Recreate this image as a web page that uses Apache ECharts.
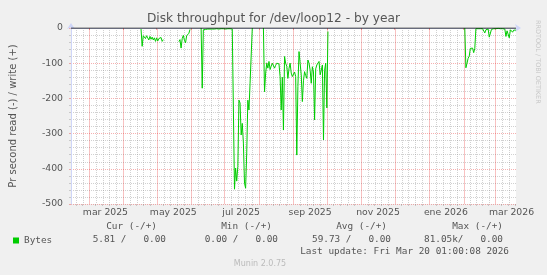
<!DOCTYPE html>
<html><head><meta charset="utf-8">
<script src="https://cdn.jsdelivr.net/npm/echarts@6/dist/echarts.min.js"></script>
<style>html,body{margin:0;padding:0;background:#f0f0f0}#c{width:547px;height:275px}</style>
</head><body><div id="c"></div>
<script>
// ---- data ----
const startTime = '2025-02-13T01:00:00';
const endTime = '2026-03-20T01:00:00';
const labelDates = ['2025-03-16','2025-05-16','2025-07-16','2025-09-16','2025-11-16','2026-01-16','2026-03-16'];
const tickLabels = ['mar 2025','may 2025','jul 2025','sep 2025','nov 2025','ene 2026','mar 2026'];
const yMin = -500, yMax = 0, yStep = 100;

const segAStart = '2025-04-17';
const segAValues = [-3,-52,-22,-20,-30,-22,-28,-34,-24,-32,-26,-34,-28,-38,-28,-37,-30,-34,-27,-38,-33];
const segBStart = '2025-05-21';
const segBValues = [-39,-33,-57,-30,-21,-35,-42,-22,-25,-15,-4];
const segCStart = '2025-06-10';
const segCValues = [0,-171,
  -5,-4,-4,-4,-3,-4,-3,-3,-3,-2,-3,-2,-2,-2,-3,-2,-2,-2,-2,-2,-3,-2,-2,-2,-2,-3,-3,-4,
  -458,-398,-435,-393,-205,-213,-304,-271,-327,-441,-455,-355,-205,-233,-157,-155,0];
const segDStart = '2025-08-05';
const segDValues = [0,-181,-128,-100,-114,-95,-118,-108,-100,-104,-114,-106,-100,-95,-102,-138,-233,-140,-290,-81,
  -100,-109,-143,-115,-100,-128,-138,-133,-125,-138,-361,-166,-67,-100,-133,-209,-150,-124,-135,-143,
  -91,-100,-120,-157,-110,-125,-261,-116,-105,-100,-95,-133,-120,-105,-318,-120,-100,-227,-10];
const segEStart = '2026-02-02';
const segEValues = [0,-113,-100,-86,-80,-58,-60,-57,-70,-58,-2,-2,-2,-1,-2,-2,-2,-3,-14,-5,-2,-3,-26,-26,-4,
  -2,-2,-2,-2,-2,-1,-2,-2,-2,-2,-2,-3,-24,-8,-12,-28,-5,-6,-12,-6,-10,-6];

const legendHeaders = ['Cur (-/+)','Min (-/+)','Avg (-/+)','Max (-/+)'];
const legendValues = ['5.81 /   0.00','0.00 /   0.00','59.73 /   0.00','81.05k/   0.00'];
const lastUpdate = 'Last update: Fri Mar 20 01:00:08 2026';

// ---- build ----
const DAY = 86400000;
const ts = s => new Date(s.length <= 10 ? s + 'T00:00:00' : s).getTime();
const tMin = ts(startTime), tMax = ts(endTime);
const segs = [[segAStart,segAValues],[segBStart,segBValues],[segCStart,segCValues],[segDStart,segDValues],[segEStart,segEValues]];
const readData = [];
segs.forEach(([s, vals]) => {
  const t0 = ts(s);
  vals.forEach((v,i) => readData.push([t0 + i*DAY, v]));
  readData.push([t0 + vals.length*DAY, null]);
});
// grid positions: month starts (major), each month split in 5 (minor)
const monthStarts = [], minorTimes = [];
for (let d = new Date(2025,1,1); d.getTime() < tMax; d = new Date(d.getFullYear(), d.getMonth()+1, 1)) {
  const a = d.getTime(), b = new Date(d.getFullYear(), d.getMonth()+1, 1).getTime();
  if (a > tMin && monthStarts.indexOf(a) < 0) monthStarts.push(a);
  for (let k = 1; k < 5; k++) { const t = a + (b - a) * k / 5; if (t > tMin && t < tMax) minorTimes.push(t); }
}
const labelTimes = labelDates.map(ts);

const AXIS = '#CFD6F8', FONT = '#555';
const gridGray = 'rgba(140,140,140,0.4)', gridRed = 'rgba(229,30,30,0.35)', gridRedV = 'rgba(229,30,30,0.27)';
const chart = echarts.init(document.getElementById('c'), null, {renderer:'canvas'});
const mono = 'DejaVu Sans Mono';
const headerRight = [157,272,387,503], valueRight = [166,278,391,503];
const graphics = [];
legendHeaders.forEach((h,i) => graphics.push({type:'text', x:headerRight[i], y:227, style:{text:h, font:'9.4px "'+mono+'"', fill:FONT, align:'right', verticalAlign:'middle'}}));
legendValues.forEach((h,i) => graphics.push({type:'text', x:valueRight[i], y:240, style:{text:h, font:'9.4px "'+mono+'"', fill:FONT, align:'right', verticalAlign:'middle'}}));
graphics.push({type:'text', x:509, y:252, style:{text:lastUpdate, font:'9.4px "'+mono+'"', fill:FONT, align:'right', verticalAlign:'middle'}});
graphics.push({type:'text', x:260, y:264, style:{text:'Munin 2.0.75', font:'8px "DejaVu Sans"', fill:'#bbb', align:'center', verticalAlign:'middle'}});
graphics.push({type:'text', x:538, y:20, rotation:-Math.PI/2, style:{text:'RRDTOOL / TOBI OETIKER', font:'6.5px "DejaVu Sans"', fill:'#c8c8c8', align:'left', verticalAlign:'middle'}});

const vLineSeries = (name, times, color, dash, z) => ({
  name, type:'custom', data:times.map(t => [t, yMin]), xAxisIndex:0, silent:true, z, clip:true,
  renderItem:(params, api) => {
    const x = Math.round(api.coord([api.value(0), yMin])[0]) + 0.5;
    const cs = params.coordSys;
    return {type:'line', silent:true,
      shape:{x1:x, y1:cs.y, x2:x, y2:cs.y + cs.height},
      style:{stroke:color, fill:null, lineWidth:1, lineDash:dash}};
  }
});

chart.setOption({
  backgroundColor:'#f0f0f0',
  animation:false,
  title:{text:'Disk throughput for /dev/loop12 - by year', left:'center', top:13, padding:0,
    textStyle:{fontFamily:'DejaVu Sans', fontSize:12.2, fontWeight:'normal', color:FONT}},
  grid:{left:66, top:28, width:450, height:176, show:true, backgroundColor:'#ffffff', borderWidth:0},
  legend:{data:['Bytes'], left:13, top:236, icon:'rect', itemWidth:6, itemHeight:6, padding:0,
    textStyle:{fontFamily:mono, fontSize:9.4, color:FONT}},
  xAxis:[
    {type:'value', min:tMin, max:tMax, position:'bottom', z:1,
     axisLine:{show:true, lineStyle:{color:AXIS}, symbol:['none','arrow'], symbolSize:[6,6], symbolOffset:[0,5]},
     axisTick:{show:true, customValues:monthStarts, length:2, lineStyle:{color:gridRed}},
     axisLabel:{show:true, customValues:labelTimes, margin:4, color:FONT, fontFamily:'DejaVu Sans', fontSize:9.3,
       formatter:(v)=>{const i=labelTimes.indexOf(v); return i>=0?tickLabels[i]:'';}},
     splitLine:{show:false}},
    {type:'value', min:tMin, max:tMax, position:'bottom', z:0,
     axisLine:{show:false}, axisLabel:{show:false},
     axisTick:{show:true, customValues:minorTimes, length:2, lineStyle:{color:gridGray}},
     splitLine:{show:false}}
  ],
  yAxis:{type:'value', min:yMin, max:yMax, interval:yStep,
    name:'Pr second read (-) / write (+)', nameLocation:'middle', nameGap:53, nameRotate:90,
    nameTextStyle:{fontFamily:'DejaVu Sans', fontSize:10, color:FONT},
    axisLine:{show:true, lineStyle:{color:AXIS}, symbol:['none','arrow'], symbolSize:[6,6], symbolOffset:[0,5]},
    axisTick:{show:true, length:2, lineStyle:{color:gridRed}},
    minorTick:{show:true, splitNumber:5, length:2, lineStyle:{color:gridGray}},
    axisLabel:{color:FONT, fontFamily:'DejaVu Sans', fontSize:9.3, margin:8},
    splitLine:{show:true, lineStyle:{color:gridRed, type:[1,1]}},
    minorSplitLine:{show:true, lineStyle:{color:gridGray, type:[1,1]}}},
  graphic:graphics,
  series:[
    vLineSeries('minorGrid', minorTimes, gridGray, [1,1], 1),
    vLineSeries('majorGrid', monthStarts, gridRedV, null, 1),
    {name:'Bytes', type:'line', data:readData, xAxisIndex:0, showSymbol:false, connectNulls:false, z:2,
     lineStyle:{color:'#00cc00', width:1}, itemStyle:{color:'#00cc00'}},
    {name:'zero', type:'line', data:[[tMin,0],[tMax,0]], xAxisIndex:0, showSymbol:false, z:3,
     lineStyle:{color:'#000000', width:1}, itemStyle:{color:'#000'}}
  ]
});
</script></body></html>
